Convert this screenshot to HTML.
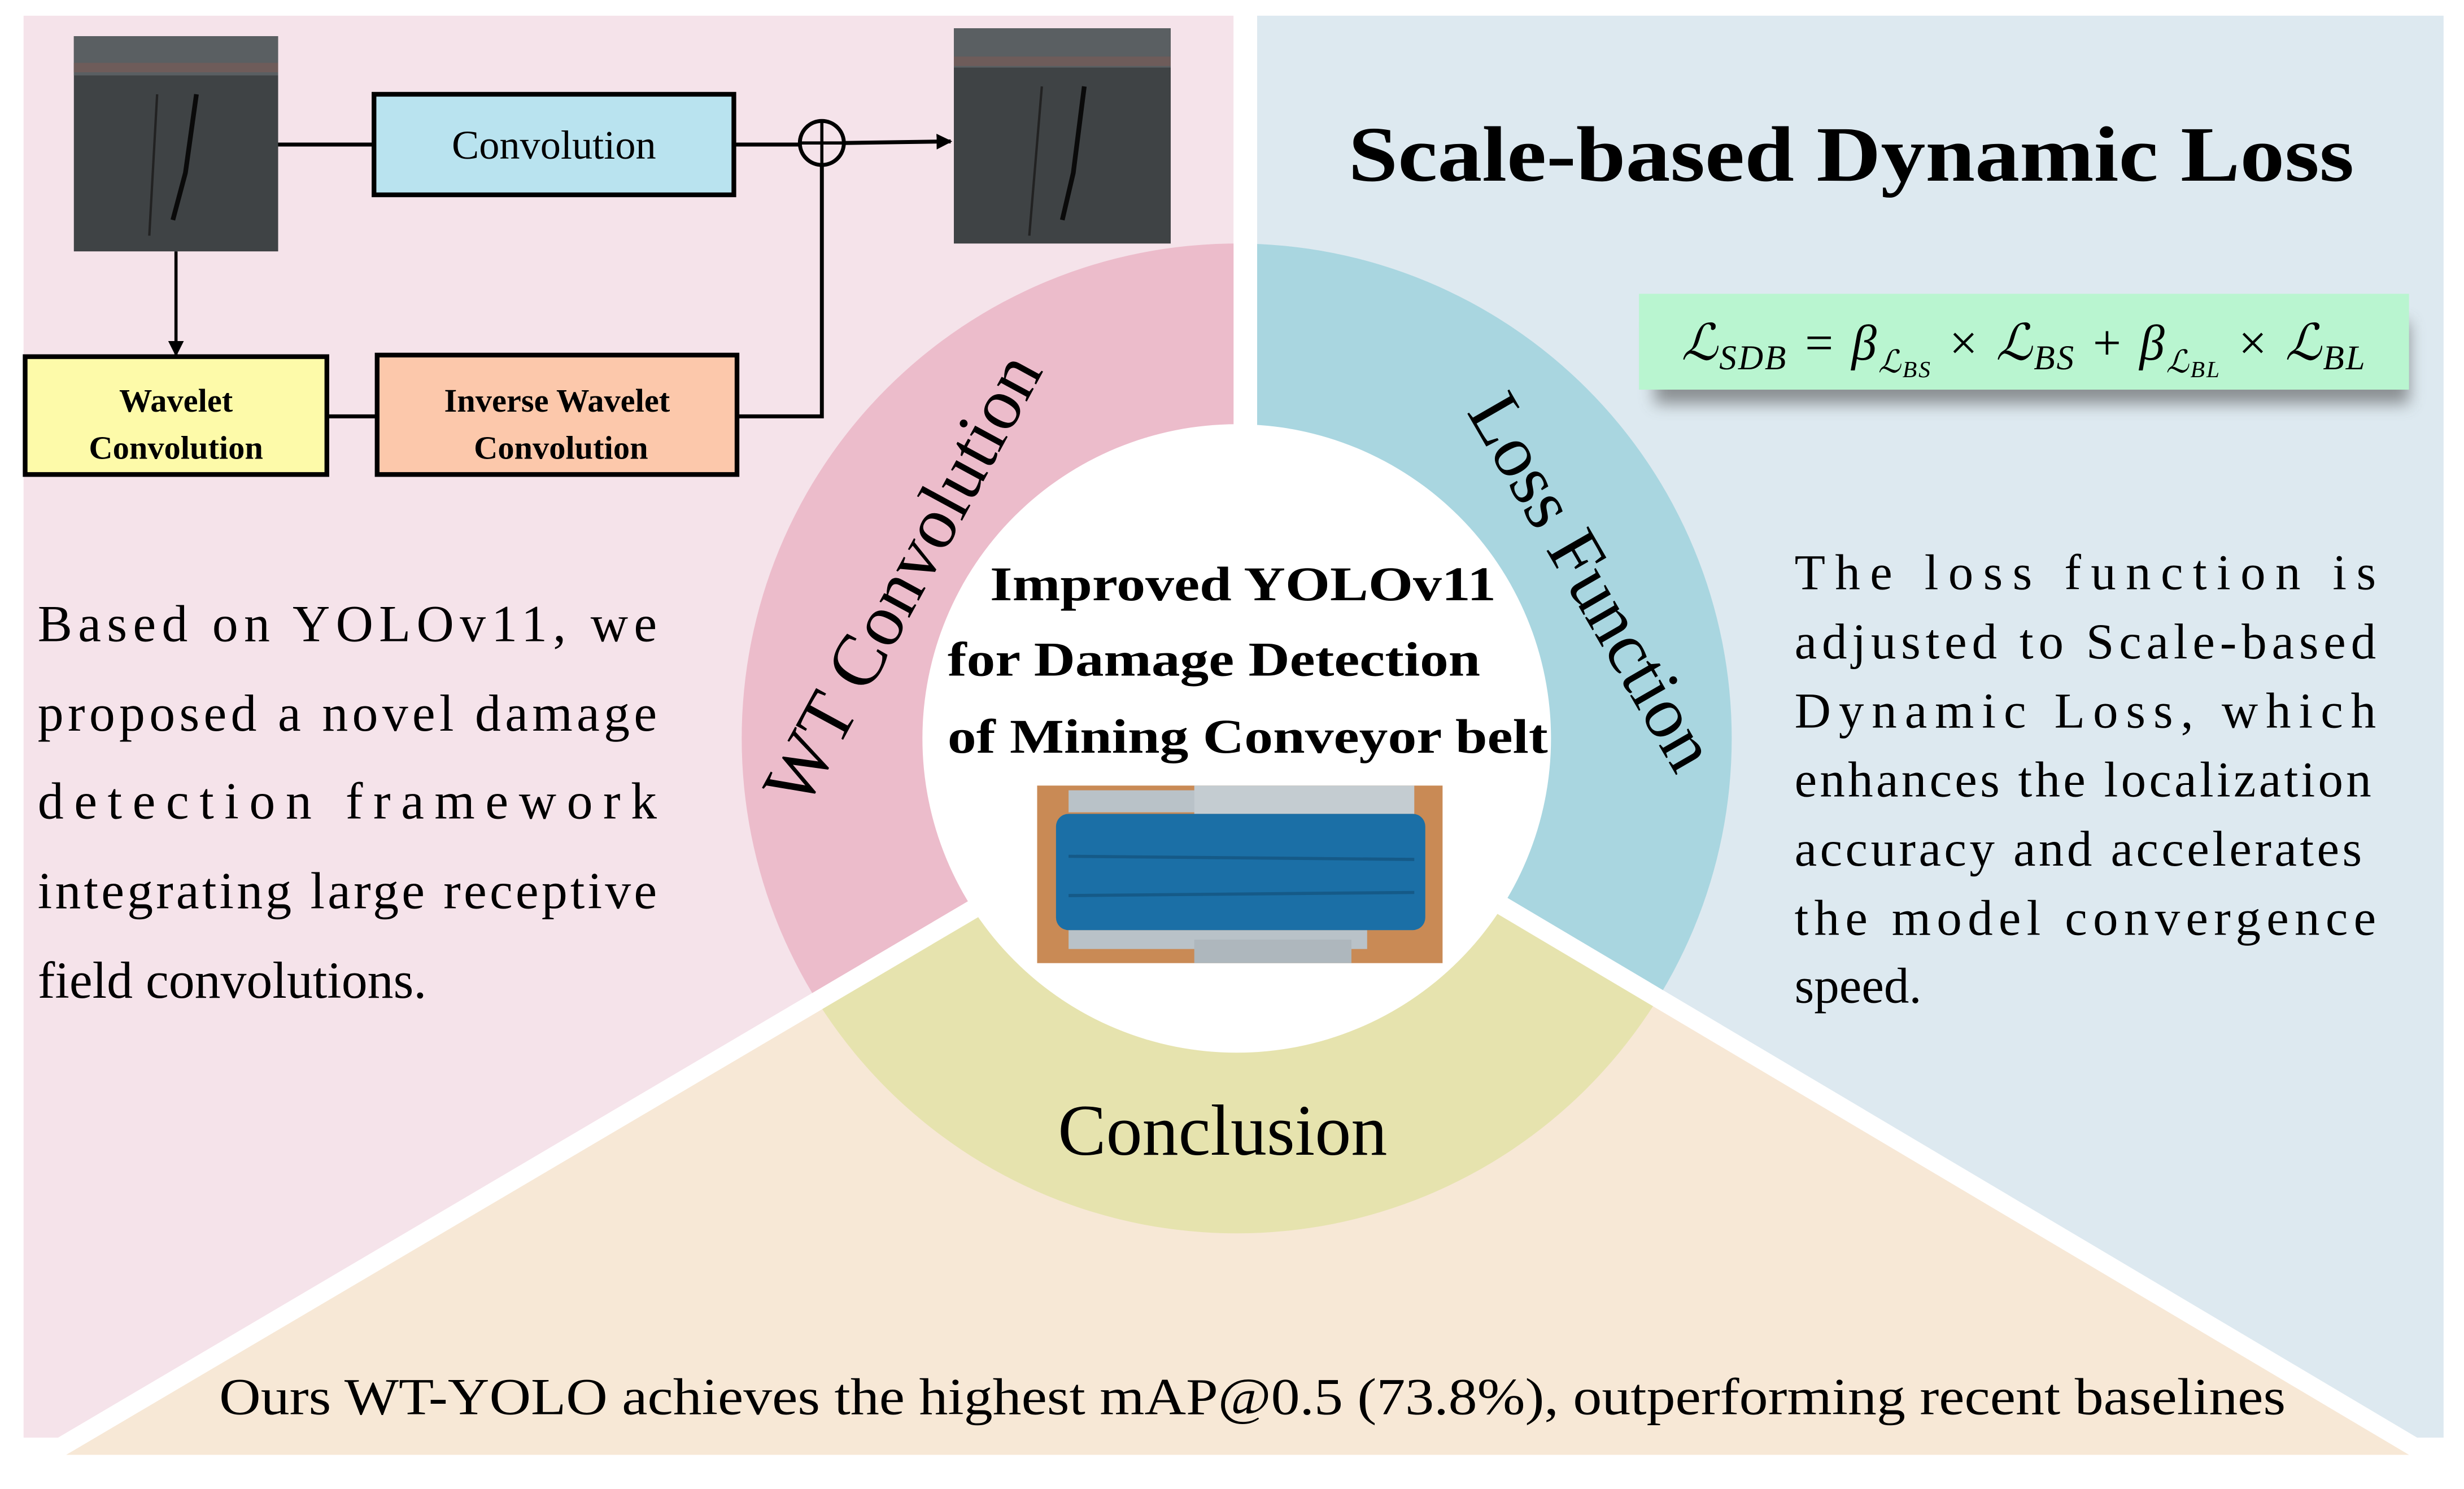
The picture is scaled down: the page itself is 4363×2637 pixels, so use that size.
<!DOCTYPE html>
<html><head><meta charset="utf-8"><style>
html,body{margin:0;padding:0;background:#fff;}
svg{display:block;}
text{font-family:"Liberation Serif",serif;}
</style></head><body>
<svg width="4363" height="2637" viewBox="0 0 1568 947.7" xmlns="http://www.w3.org/2000/svg">
<defs>
<clipPath id="tri"><polygon points="20,932 1555,932 790,478"/></clipPath>
<filter id="sh" x="-10%" y="-30%" width="120%" height="180%"><feGaussianBlur stdDeviation="5"/></filter>
<marker id="ar" markerWidth="10" markerHeight="10" refX="9" refY="5" orient="auto" markerUnits="userSpaceOnUse"><path d="M0,0 L10,5 L0,10 z" fill="#000"/></marker>
</defs>
<rect width="1568" height="947.7" fill="#fff"/>
<rect x="15" y="10" width="770" height="905" fill="#f5e3ea"/>
<rect x="800" y="10" width="755" height="905" fill="#dde9f0"/>
<path d="M787,155 A315,315 0 0 0 787,785 Z" fill="#ecbccb"/>
<path d="M787,155 A315,315 0 0 1 787,785 Z" fill="#a9d6e0"/>
<rect x="785" y="0" width="15" height="470" fill="#fff"/>
<polygon points="20,932 1555,932 790,478" fill="#f7e8d6" stroke="#fff" stroke-width="12" stroke-linejoin="miter"/>
<circle cx="787" cy="470" r="315" fill="#e6e3ae" clip-path="url(#tri)"/>
<polygon points="20,932 1555,932 790,478" fill="none" stroke="#fff" stroke-width="12"/>
<rect x="0" y="933" width="1568" height="20" fill="#fff"/>
<circle cx="787" cy="470" r="200" fill="#fff"/>

<!-- left diagram -->
<rect x="47" y="23" width="130" height="137" fill="#3f4345"/>
<rect x="47" y="23" width="130" height="25" fill="#5a5f62"/>
<rect x="47" y="40" width="130" height="6" fill="#6e5c5a"/>
<path d="M125,60 L118,110 L110,140" stroke="#0a0a0a" stroke-width="3" fill="none"/>
<path d="M100,60 L95,150" stroke="#222" stroke-width="1.5" fill="none"/>
<rect x="607" y="18" width="138" height="137" fill="#3f4345"/>
<rect x="607" y="18" width="138" height="25" fill="#5a5f62"/>
<rect x="607" y="36" width="138" height="6" fill="#6e5c5a"/>
<path d="M690,55 L683,110 L676,140" stroke="#0a0a0a" stroke-width="3" fill="none"/>
<path d="M663,55 L655,150" stroke="#222" stroke-width="1.5" fill="none"/>

<line x1="177" y1="92" x2="238" y2="92" stroke="#000" stroke-width="2.5"/>
<rect x="238" y="60" width="229" height="64" fill="#b9e3ef" stroke="#000" stroke-width="3"/>
<text x="352.5" y="101" font-size="26" text-anchor="middle">Convolution</text>
<line x1="467" y1="92" x2="509" y2="92" stroke="#000" stroke-width="2.5"/>
<circle cx="523" cy="91" r="14" fill="none" stroke="#000" stroke-width="2.5"/>
<line x1="509" y1="91" x2="537" y2="91" stroke="#000" stroke-width="2"/>
<line x1="523" y1="77" x2="523" y2="105" stroke="#000" stroke-width="2"/>
<line x1="537" y1="91" x2="605" y2="90" stroke="#000" stroke-width="2.5" marker-end="url(#ar)"/>
<line x1="112" y1="160" x2="112" y2="226" stroke="#000" stroke-width="2" marker-end="url(#ar)"/>
<rect x="16" y="227" width="192" height="75" fill="#fdfaa9" stroke="#000" stroke-width="3"/>
<text x="112" y="262" font-size="21" font-weight="bold" text-anchor="middle">Wavelet</text>
<text x="112" y="292" font-size="21" font-weight="bold" text-anchor="middle">Convolution</text>
<line x1="208" y1="265" x2="240" y2="265" stroke="#000" stroke-width="2.5"/>
<rect x="240" y="226" width="229" height="76" fill="#fcc8ab" stroke="#000" stroke-width="3"/>
<text x="354.5" y="262" font-size="21" font-weight="bold" text-anchor="middle">Inverse Wavelet</text>
<text x="357" y="292" font-size="21" font-weight="bold" text-anchor="middle">Convolution</text>
<polyline points="469,265 523,265 523,105" fill="none" stroke="#000" stroke-width="2.5"/>

<g font-size="33">
<text x="24" y="408" textLength="394" lengthAdjust="spacing">Based on YOLOv11, we</text>
<text x="24" y="465" textLength="394" lengthAdjust="spacing">proposed a novel damage</text>
<text x="24" y="521" textLength="394" lengthAdjust="spacing">detection framework</text>
<text x="24" y="578" textLength="394" lengthAdjust="spacing">integrating large receptive</text>
<text x="24" y="635">field convolutions.</text>
</g>

<text x="858" y="115" font-size="50" font-weight="bold" textLength="640" lengthAdjust="spacingAndGlyphs">Scale-based Dynamic Loss</text>
<rect x="1053" y="205" width="480" height="52" fill="#555" opacity="0.6" filter="url(#sh)"/>
<rect x="1043" y="187" width="490" height="61" fill="#b9f5d0"/>
<text x="1070" y="229" font-size="32" font-style="italic" textLength="435" lengthAdjust="spacing">ℒ<tspan font-size="22" dy="6">SDB</tspan><tspan dy="-6"> = β</tspan><tspan font-size="20" dy="8">ℒ</tspan><tspan font-size="15" dy="3">BS</tspan><tspan dy="-11"> × ℒ</tspan><tspan font-size="22" dy="6">BS</tspan><tspan dy="-6"> + β</tspan><tspan font-size="20" dy="8">ℒ</tspan><tspan font-size="15" dy="3">BL</tspan><tspan dy="-11"> × ℒ</tspan><tspan font-size="22" dy="6">BL</tspan></text>
<g font-size="32">
<text x="1142" y="375" textLength="370" lengthAdjust="spacing">The loss function is</text>
<text x="1142" y="419" textLength="370" lengthAdjust="spacing">adjusted to Scale-based</text>
<text x="1142" y="463" textLength="370" lengthAdjust="spacing">Dynamic Loss, which</text>
<text x="1142" y="507" textLength="367" lengthAdjust="spacing">enhances the localization</text>
<text x="1142" y="551" textLength="361" lengthAdjust="spacing">accuracy and accelerates</text>
<text x="1142" y="595" textLength="370" lengthAdjust="spacing">the model convergence</text>
<text x="1142" y="638">speed.</text>
</g>

<text x="0" y="0" font-size="47" text-anchor="middle" transform="translate(588,376) rotate(-61.5)">WT Convolution</text>
<text x="0" y="0" font-size="47" text-anchor="middle" transform="translate(1000,378) rotate(60)">Loss Function</text>
<text x="778" y="735" font-size="46" text-anchor="middle">Conclusion</text>

<g font-size="31" font-weight="bold">
<text x="630" y="382" textLength="322" lengthAdjust="spacingAndGlyphs">Improved YOLOv11</text>
<text x="603" y="430" textLength="339" lengthAdjust="spacingAndGlyphs">for Damage Detection</text>
<text x="603" y="479" textLength="382" lengthAdjust="spacingAndGlyphs">of Mining Conveyor belt</text>
</g>
<rect x="660" y="500" width="258" height="113" fill="#c98a55"/>
<rect x="680" y="503" width="190" height="14" fill="#b9c2c8"/>
<rect x="760" y="500" width="140" height="18" fill="#c4ccd1"/>
<rect x="680" y="592" width="190" height="12" fill="#b9c2c8"/>
<rect x="760" y="598" width="100" height="15" fill="#aeb7bd"/>
<rect x="672" y="518" width="235" height="74" rx="8" fill="#1b6fa6"/>
<path d="M680,545 L900,547 M680,570 L900,568" stroke="#155a88" stroke-width="2"/>

<text x="797" y="900" font-size="33" text-anchor="middle" textLength="1315" lengthAdjust="spacingAndGlyphs">Ours WT-YOLO achieves the highest mAP@0.5 (73.8%), outperforming recent baselines</text>
</svg>
</body></html>
